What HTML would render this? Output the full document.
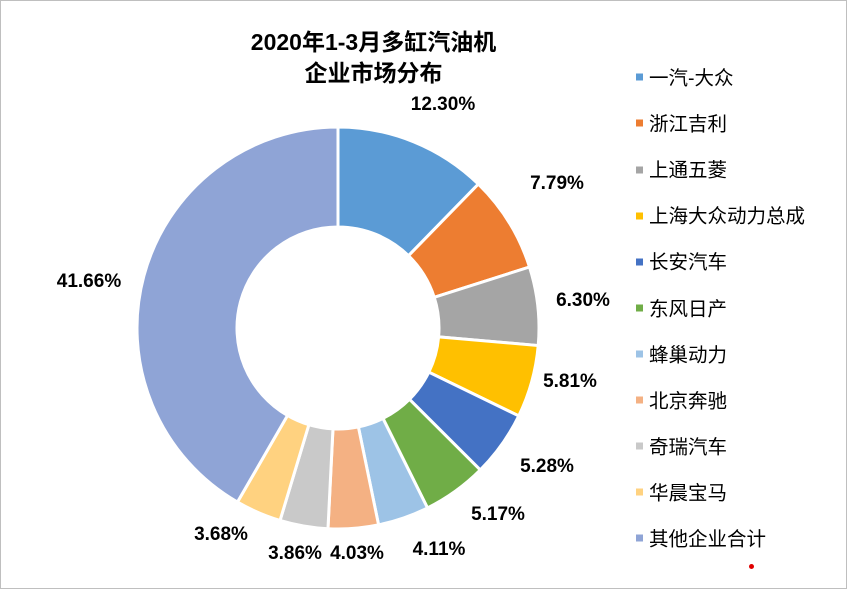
<!DOCTYPE html>
<html><head><meta charset="utf-8"><style>
body{margin:0;background:#fff}
#c{position:relative;width:845px;height:587px;border:1px solid #bfbfbf;overflow:hidden;font-family:"Liberation Sans","Noto Sans CJK SC",sans-serif}
.t{position:absolute;left:0;width:745px;text-align:center;font-weight:bold;font-size:23px;color:#000}
.lab{position:absolute;font-weight:bold;font-size:19px;color:#000;transform:translate(-50%,-50%);white-space:nowrap}
.lg{position:absolute;left:635px;font-size:19.5px;color:#000;white-space:nowrap;transform:translateY(-50%)}
.lg i{display:inline-block;width:7px;height:7px;margin-right:6px;vertical-align:middle;position:relative;top:-2px}
</style></head><body><div id="c">
<div class="t" style="top:22px">2020年1-3月多缸汽油机</div>
<div class="t" style="top:53px">企业市场分布</div>
<svg id="s" width="845" height="587" style="position:absolute;left:0;top:0"></svg>
<div class="lab" style="left:442px;top:104px">12.30%</div>
<div class="lab" style="left:556px;top:183px">7.79%</div>
<div class="lab" style="left:582px;top:300px">6.30%</div>
<div class="lab" style="left:569px;top:381px">5.81%</div>
<div class="lab" style="left:546px;top:466px">5.28%</div>
<div class="lab" style="left:497px;top:514px">5.17%</div>
<div class="lab" style="left:438px;top:549px">4.11%</div>
<div class="lab" style="left:356px;top:553px">4.03%</div>
<div class="lab" style="left:294px;top:553px">3.86%</div>
<div class="lab" style="left:220px;top:534px">3.68%</div>
<div class="lab" style="left:88px;top:281px">41.66%</div>
<div id="lg"></div>
<div style="position:absolute;left:748px;top:563px;width:5px;height:5px;border-radius:50%;background:#e00000"></div>
</div>
<script>
var v=[12.30,7.79,6.30,5.81,5.28,5.17,4.11,4.03,3.86,3.68,41.66];
var col=["#5B9BD5","#ED7D31","#A5A5A5","#FFC000","#4472C4","#70AD47","#9DC3E6","#F4B183","#C9C9C9","#FFD280","#8FA4D6"];
var nm=["一汽-大众","浙江吉利","上通五菱","上海大众动力总成","长安汽车","东风日产","蜂巢动力","北京奔驰","奇瑞汽车","华晨宝马","其他企业合计"];
var tot=v.reduce((a,b)=>a+b,0),cx=337,cy=327,R=201,r=101,a=0,h="";
function p(ang,rad){return [cx+rad*Math.sin(ang),cy-rad*Math.cos(ang)];}
for(var i=0;i<v.length;i++){var a1=a+v[i]/tot*2*Math.PI,lg=(a1-a)>Math.PI?1:0;
var A=p(a,R),B=p(a1,R),C=p(a1,r),D=p(a,r);
h+='<path d="M'+A+' A'+R+','+R+' 0 '+lg+' 1 '+B+' L'+C+' A'+r+','+r+' 0 '+lg+' 0 '+D+' Z" fill="'+col[i]+'" stroke="#fff" stroke-width="3"/>';a=a1;}
document.getElementById('s').innerHTML=h;
var L="";for(var i=0;i<11;i++){L+='<div class="lg" style="top:'+(75+i*46.1)+'px"><i style="background:'+col[i]+'"></i>'+nm[i]+'</div>';}
document.getElementById('lg').innerHTML=L;
</script>
</body></html>
